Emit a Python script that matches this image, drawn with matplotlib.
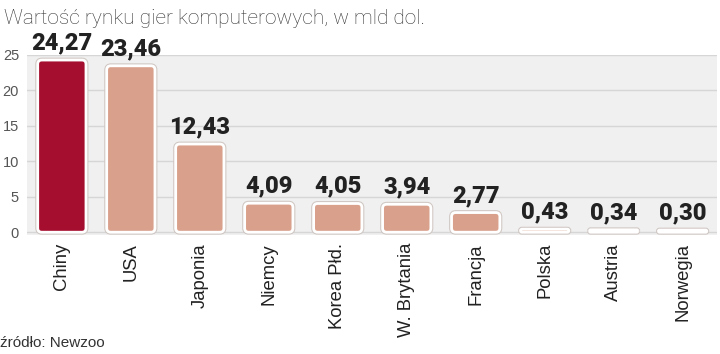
import matplotlib.pyplot as plt
from matplotlib.patches import FancyBboxPatch
import matplotlib.patheffects as pe

countries = ["Chiny", "USA", "Japonia", "Niemcy", "Korea Płd.", "W. Brytania",
             "Francja", "Polska", "Austria", "Norwegia"]
values = [24.27, 23.46, 12.43, 4.09, 4.05, 3.94, 2.77, 0.43, 0.34, 0.30]
labels = ["24,27", "23,46", "12,43", "4,09", "4,05", "3,94", "2,77", "0,43", "0,34", "0,30"]
yticks = [0, 5, 10, 15, 20, 25]

highlight = "#a50e2e"
base = "#d9a18c"
colors = [highlight] + [base] * (len(values) - 1)

fig = plt.figure(figsize=(7.2, 3.54), dpi=100)
fig.patch.set_facecolor("white")
ax = fig.add_axes([0.038, 0.337, 0.958, 0.508])
ax.set_facecolor("#f0f0f0")

bars = ax.bar(range(len(values)), values, width=0.7, color=colors)
ax.set_xlim(-0.5, len(values) - 0.5)
ax.set_ylim(-0.35, 25)

# pixel scale, used to keep corners round
bbox = ax.get_window_extent()
px_x = bbox.width / (len(values))
px_y = bbox.height / 25.35
aspect = px_x / px_y

for rect, c in zip(bars, colors):
    x, y = rect.get_x(), rect.get_y()
    w, h = rect.get_width(), rect.get_height()
    rect.remove()
    r = min(0.06, h / 2 / aspect)
    p = FancyBboxPatch((x, y), w, h,
                       boxstyle="round,pad=0,rounding_size=%f" % r,
                       mutation_aspect=aspect,
                       facecolor=c, edgecolor="white", linewidth=2, zorder=3)
    p.set_path_effects([pe.Stroke(linewidth=3.5, foreground="#cfc6c2"), pe.Normal()])
    ax.add_patch(p)

for i, (v, t) in enumerate(zip(values, labels)):
    ax.text(i, v + 0.8, t, ha="center", va="bottom", fontsize=17,
            fontweight="heavy", family="Roboto",
            color="#222222", zorder=4)

ax.set_yticks(yticks)
ax.set_yticklabels([str(t) for t in yticks], fontsize=10.5, color="#555555",
                   family="Liberation Sans")
ax.tick_params(axis="y", length=0, pad=6)
ax.yaxis.grid(True, color="#d6d6d6", linewidth=1)
ax.set_axisbelow(True)

ax.set_xticks(range(len(values)))
ax.set_xticklabels(countries, rotation=90, fontsize=13.3, color="#222222",
                   family="Liberation Sans", va="top")
ax.tick_params(axis="x", length=0, pad=6)

for s in ax.spines.values():
    s.set_visible(False)

fig.text(0.006, 0.975, "Wartość rynku gier komputerowych, w mld dol.",
         ha="left", va="top", fontsize=15, color="#333333",
         family="Roboto", fontweight="light")
fig.text(0.0, 0.01, "źródło: Newzoo", ha="left", va="bottom", fontsize=11,
         color="#333333", family="Liberation Sans")

fig.savefig("out.png", dpi=100)
